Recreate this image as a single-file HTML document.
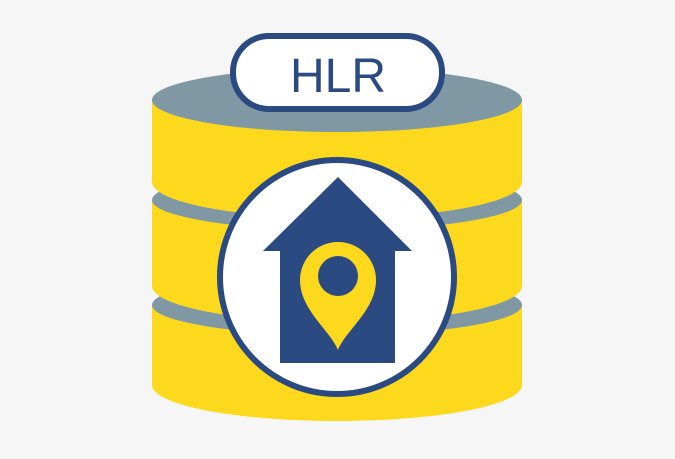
<!DOCTYPE html>
<html><head><style>html,body{margin:0;padding:0;background:#f6f6f6}</style></head>
<body>
<svg width="675" height="454" viewBox="0 0 675 454" xmlns="http://www.w3.org/2000/svg">
<rect width="675" height="454" fill="#f6f6f6"/>
<g>
<path d="M152 305 L152 385 A185 36 0 0 0 522 385 L522 305 Z" fill="#fdd91d"/>
<ellipse cx="337" cy="305" rx="185" ry="30" fill="#8097a4"/>
<path d="M152 200 L152 286 A185 36 0 0 0 522 286 L522 200 Z" fill="#fdd91d"/>
<ellipse cx="337" cy="200" rx="185" ry="30" fill="#8097a4"/>
<path d="M152 100 L152 182 A185 36 0 0 0 522 182 L522 100 Z" fill="#fdd91d"/>
<ellipse cx="337" cy="100" rx="185" ry="32" fill="#8097a4"/>
</g>
<rect x="233" y="36" width="209" height="73" rx="36" fill="#fff" stroke="#2b4a82" stroke-width="6"/>
<text x="338" y="92" text-anchor="middle" font-family="Liberation Sans, sans-serif" font-size="48" fill="#2b4a82">HLR</text>
<circle cx="337" cy="277" r="117" fill="#fff" stroke="#2b4a82" stroke-width="6"/>
<path d="M338 177 L412 251 L395 251 L395 363 L280 363 L280 251 L263 251 Z" fill="#2b4a82"/>
<path d="M338 350 C330 330 300 310 300 280 A38 38 0 0 1 376 280 C376 310 346 330 338 350 Z" fill="#fdd91d"/>
<circle cx="338" cy="276" r="20" fill="#2b4a82"/>
</svg>
</body></html>
